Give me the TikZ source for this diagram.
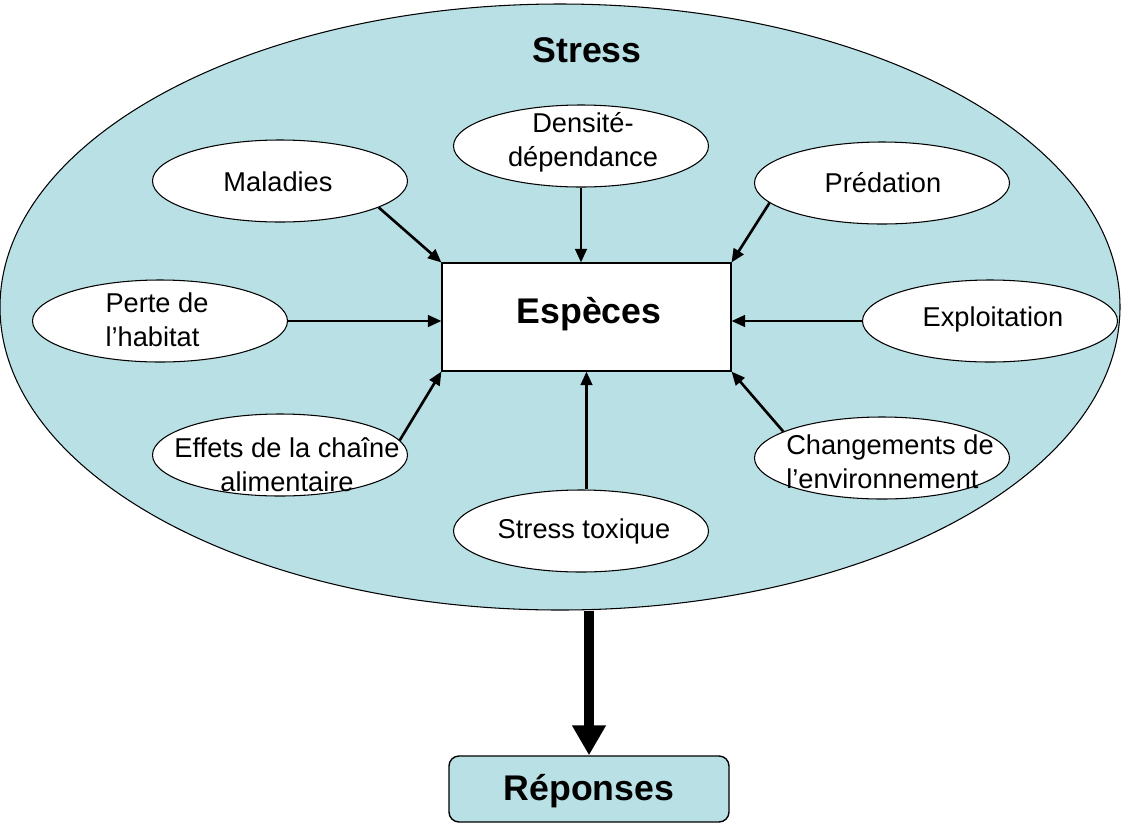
\documentclass[tikz,border=0pt]{standalone}
\usepackage{fontspec}
\setmainfont{Liberation Sans}
\usetikzlibrary{shapes.geometric, arrows.meta}
\definecolor{bleustress}{RGB}{185,224,228}
\tikzset{
    oeuf/.style={ellipse, draw, fill=white, line width=0.6pt, minimum width=5.1cm, minimum height=1.64cm, inner sep=0pt},
    txt/.style={inner sep=0pt, font=\fontsize{15.5}{19.3}\selectfont},
    titre/.style={inner sep=0pt, font=\bfseries\fontsize{20.3}{24}\selectfont},
    fleche/.style={-{Triangle[length=0.27cm, width=0.23cm]}, line width=1.5pt},
}

\begin{document}
\begin{tikzpicture}
        \useasboundingbox (0, 0) rectangle (22.42, -16.5);

        \node[ellipse, draw, fill=bleustress, line width=0.6pt, minimum width=22.4cm, minimum height=12.12cm, inner sep=0pt] (stress) at (11.2, -6.14) {};
        \node[titre] (stresst) at (11.74, -1.0) {Stress};

        \node[draw, fill=white, line width=0.6pt, minimum width=5.78cm, minimum height=2.16cm, inner sep=0pt] (esp) at (11.73, -6.34) {};
        \node[titre] (espt) at (11.78, -6.28) {Espèces};

        \node[oeuf] (mal) at (5.6, -3.62) {};
        \node[oeuf] (dens) at (11.62, -2.92) {};
        \node[oeuf] (pred) at (17.64, -3.66) {};
        \node[oeuf] (perte) at (3.2, -6.42) {};
        \node[oeuf] (expl) at (19.8, -6.42) {};
        \node[oeuf] (eff) at (5.6, -9.1) {};
        \node[oeuf] (chg) at (17.64, -9.16) {};
        \node[oeuf] (tox) at (11.62, -10.62) {};

        \node[txt] (malt) at (5.56, -3.64) {Maladies};
        \node[txt, align=center] (denst) at (11.66, -2.84) {Densité-\\dépendance};
        \node[txt] (predt) at (17.66, -3.66) {Prédation};
        \node[txt, align=left] (pertet) at (3.14, -6.4) {Perte de\\l’habitat};
        \node[txt] (explt) at (19.86, -6.38) {Exploitation};
        \node[txt, align=center] (efft) at (5.74, -9.3) {Effets de la chaîne\\alimentaire};
        \node[txt, align=left] (chgt) at (17.8, -9.24) {Changements de\\l’environnement};
        \node[txt] (toxt) at (11.68, -10.62) {Stress toxique};

        % vers les especes
        \draw[fleche] (mal.-15) -- (esp.north west);
        \draw[fleche] (dens.south) -- (dens.south |- esp.north);
        \draw[fleche] (pred.190) -- (esp.north east);
        \draw[fleche] (perte.east) -- (perte.east -| esp.west);
        \draw[fleche] (expl.west) -- (expl.west -| esp.east);
        \draw[fleche] (eff.7) -- (esp.south west);
        \draw[fleche] (chg.165) -- (esp.south east);
        \draw[fleche] (tox.north -| esp.south) -- (esp.south);

        \node[draw, fill=bleustress, line width=0.8pt, rounded corners=0.2cm, minimum width=5.6cm, minimum height=1.32cm, inner sep=0pt] (resp) at (11.78, -15.78) {};
        \node[titre] (respt) at (11.78, -15.82) {Réponses};

        \draw[line width=6pt, -{Triangle[length=0.6cm, width=0.64cm]}] (resp.north |- stress.south) -- (resp.north);
    \end{tikzpicture}
\end{document}
